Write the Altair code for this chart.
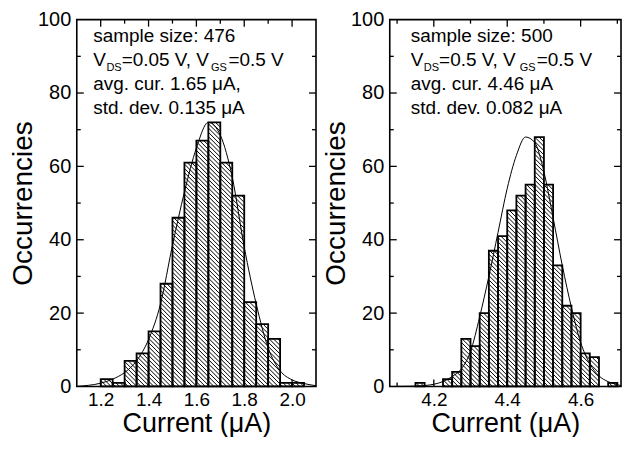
import altair as alt
import pandas as pd

# ---------------- data ----------------
left_bin_start = [1.20, 1.25, 1.30, 1.35, 1.40, 1.45, 1.50, 1.55, 1.60, 1.65,
                  1.70, 1.75, 1.80, 1.85, 1.90, 1.95, 2.00]
left_counts = [2, 1, 7, 9, 15, 28, 46, 61, 67, 72, 61, 52, 23, 17, 13, 1, 1]
left_bin_width = 0.05

right_bin_start = [4.150, 4.225, 4.250, 4.275, 4.300, 4.325, 4.350, 4.375, 4.400, 4.425,
                   4.450, 4.475, 4.500, 4.525, 4.550, 4.575, 4.600, 4.625, 4.675]
right_counts = [1, 2, 4, 13, 11, 20, 37, 41, 48, 52, 55, 68, 55, 33, 22, 20, 9, 8, 1]
right_bin_width = 0.025

left_fit_x = [1.10, 1.20, 1.25, 1.30, 1.35, 1.40, 1.45, 1.50, 1.55, 1.60, 1.65,
              1.70, 1.75, 1.80, 1.85, 1.90, 1.95, 2.00, 2.05, 2.10]
left_fit_y = [0.05, 0.9, 2.0, 3.8, 7.0, 12.8, 22.5, 38.5, 53.0, 65.0, 72.0,
              68.5, 57.0, 38.0, 22.5, 10.5, 4.3, 1.8, 0.8, 0.2]

right_fit_x = [4.08, 4.15, 4.20, 4.25, 4.275, 4.30, 4.325, 4.35, 4.375, 4.40, 4.425,
               4.45, 4.475, 4.50, 4.525, 4.55, 4.575, 4.60, 4.625, 4.65, 4.675, 4.70, 4.71]
right_fit_y = [0.0, 0.1, 0.6, 2.7, 4.8, 9.5, 19.0, 30.0, 42.0, 54.0, 63.0,
               68.0, 66.5, 58.5, 46.0, 33.0, 21.5, 12.0, 6.2, 2.9, 1.3, 0.5, 0.2]

left_x_ticks = [1.2, 1.4, 1.6, 1.8, 2.0]
left_x_minor = [1.3, 1.5, 1.7, 1.9]
right_x_ticks = [4.2, 4.4, 4.6]
right_x_minor = [4.1, 4.3, 4.5, 4.7]
y_ticks = [0, 20, 40, 60, 80, 100]
y_major_inner = [20, 40, 60, 80]
y_minor = [10, 30, 50, 70, 90]

left_notes = ["sample size: 476", "avg. cur. 1.65 \u03bcA,", "std. dev. 0.135 \u03bcA"]
left_bias = ["V", "DS", "=0.05 V, V", "GS", "=0.5 V"]
right_notes = ["sample size: 500", "avg. cur. 4.46 \u03bcA", "std. dev. 0.082 \u03bcA"]
right_bias = ["V", "DS", "=0.5 V, V", "GS", "=0.5 V"]

# ---------------- layout ----------------
FONT = "Liberation Sans"
H = 368
LW, RW = 240, 232
LDOM, RDOM = [1.10, 2.10], [4.08, 4.71]
MAJ, MIN = 7, 4
HATCH = 4.3


def hatch_segments(starts, counts, bw, dom, width):
    sx = width / (dom[1] - dom[0])
    sy = H / 100.0
    rows = []
    for s, c in zip(starts, counts):
        if c <= 0:
            continue
        X0 = (s - dom[0]) * sx
        X1 = (s + bw - dom[0]) * sx
        Hp = c * sy
        k = int(X0 // HATCH)
        while k * HATCH < X1 + Hp:
            cc = k * HATCH
            u0 = max(X0, cc - Hp)
            u1 = min(X1, cc)
            if u1 - u0 > 0.3:
                rows.append({
                    "x": dom[0] + u0 / sx, "y": (cc - u0) / sy,
                    "x2": dom[0] + u1 / sx, "y2": (cc - u1) / sy,
                })
            k += 1
    return pd.DataFrame(rows)


def note(txt, x, y, size=19):
    return alt.Chart(alt.Data(values=[{}])).mark_text(
        text=txt, font=FONT, fontSize=size, align="left", baseline="alphabetic", color="black"
    ).encode(x=alt.value(x), y=alt.value(y))


def panel(starts, counts, bw, dom, width, fx, fy, xt, xmin, notes, bias, bias_x):
    xs = alt.Scale(domain=dom, nice=False, zero=False)
    ys = alt.Scale(domain=[0, 100], nice=False, zero=True)
    bars = pd.DataFrame({"start": starts, "end": [s + bw for s in starts], "count": counts})
    hatch = hatch_segments(starts, counts, bw, dom, width)

    xaxis = alt.Axis(values=xt, format=".1f", title="Current (\u03bcA)")
    yaxis = alt.Axis(values=y_ticks, format="d", title="Occurrencies")

    hatch_layer = alt.Chart(hatch).mark_rule(color="black", strokeWidth=1.0).encode(
        x=alt.X("x:Q", scale=xs, axis=xaxis), x2="x2", y=alt.Y("y:Q", scale=ys, axis=yaxis), y2="y2"
    )
    bar_layer = alt.Chart(bars).mark_rect(fill=None, stroke="black", strokeWidth=1.8).encode(
        x=alt.X("start:Q", scale=xs), x2="end", y=alt.Y("count:Q", scale=ys), y2=alt.datum(0)
    )
    fit = alt.Chart(pd.DataFrame({"x": fx, "y": fy})).mark_line(
        color="black", strokeWidth=1, interpolate="monotone"
    ).encode(x=alt.X("x:Q", scale=xs), y=alt.Y("y:Q", scale=ys))

    xmaj_df = pd.DataFrame({"v": xt})
    xmin_df = pd.DataFrame({"v": xmin})
    ymaj_df = pd.DataFrame({"v": y_major_inner})
    ymin_df = pd.DataFrame({"v": y_minor})

    def xtick(df, ln):
        b = alt.Chart(df).mark_rule(color="black", strokeWidth=1.3).encode(
            x=alt.X("v:Q", scale=xs), y=alt.value(H), y2=alt.value(H - ln))
        t = alt.Chart(df).mark_rule(color="black", strokeWidth=1.3).encode(
            x=alt.X("v:Q", scale=xs), y=alt.value(0), y2=alt.value(ln))
        return [b, t]

    def ytick(df, ln):
        l = alt.Chart(df).mark_rule(color="black", strokeWidth=1.3).encode(
            y=alt.Y("v:Q", scale=ys), x=alt.value(0), x2=alt.value(ln))
        r = alt.Chart(df).mark_rule(color="black", strokeWidth=1.3).encode(
            y=alt.Y("v:Q", scale=ys), x=alt.value(width), x2=alt.value(width - ln))
        return [l, r]

    ticks = xtick(xmaj_df, MAJ) + xtick(xmin_df, MIN) + ytick(ymaj_df, MAJ) + ytick(ymin_df, MIN)

    tx = bias_x[0]
    texts = [
        note(notes[0], tx, 22.0),
        note(bias[0], tx, 46.5),
        note(bias[1], bias_x[1], 52.0, 11),
        note(bias[2], bias_x[2], 46.5),
        note(bias[3], bias_x[3], 52.0, 11),
        note(bias[4], bias_x[4], 46.5),
        note(notes[1], tx, 71.0),
        note(notes[2], tx, 95.0),
    ]
    return alt.layer(hatch_layer, bar_layer, fit, *ticks, *texts).properties(width=width, height=H)


left = panel(left_bin_start, left_counts, left_bin_width, LDOM, LW, left_fit_x, left_fit_y,
             left_x_ticks, left_x_minor, left_notes, left_bias, [16.5, 29.7, 45.0, 134.7, 152.2])
right = panel(right_bin_start, right_counts, right_bin_width, RDOM, RW, right_fit_x, right_fit_y,
              right_x_ticks, right_x_minor, right_notes, right_bias, [21.0, 34.2, 49.5, 130.5, 147.5])

chart = alt.hconcat(left, right, spacing=74, bounds="flush").properties(
    padding={"left": 0, "top": 0, "right": 0, "bottom": -1}
).configure_view(stroke="black", strokeWidth=1.6).configure_axis(
    labelFont=FONT, titleFont=FONT, labelFontSize=20, titleFontSize=28,
    titleFontWeight="normal", labelColor="black", titleColor="black",
    tickSize=0, domain=False, grid=False,
).configure_axisX(labelPadding=4, titlePadding=1, labelFontSize=19, titleFontSize=27).configure_axisY(
    labelPadding=6, titlePadding=0
)

chart.save("out.html", embed_options={"renderer": "svg", "actions": False})
